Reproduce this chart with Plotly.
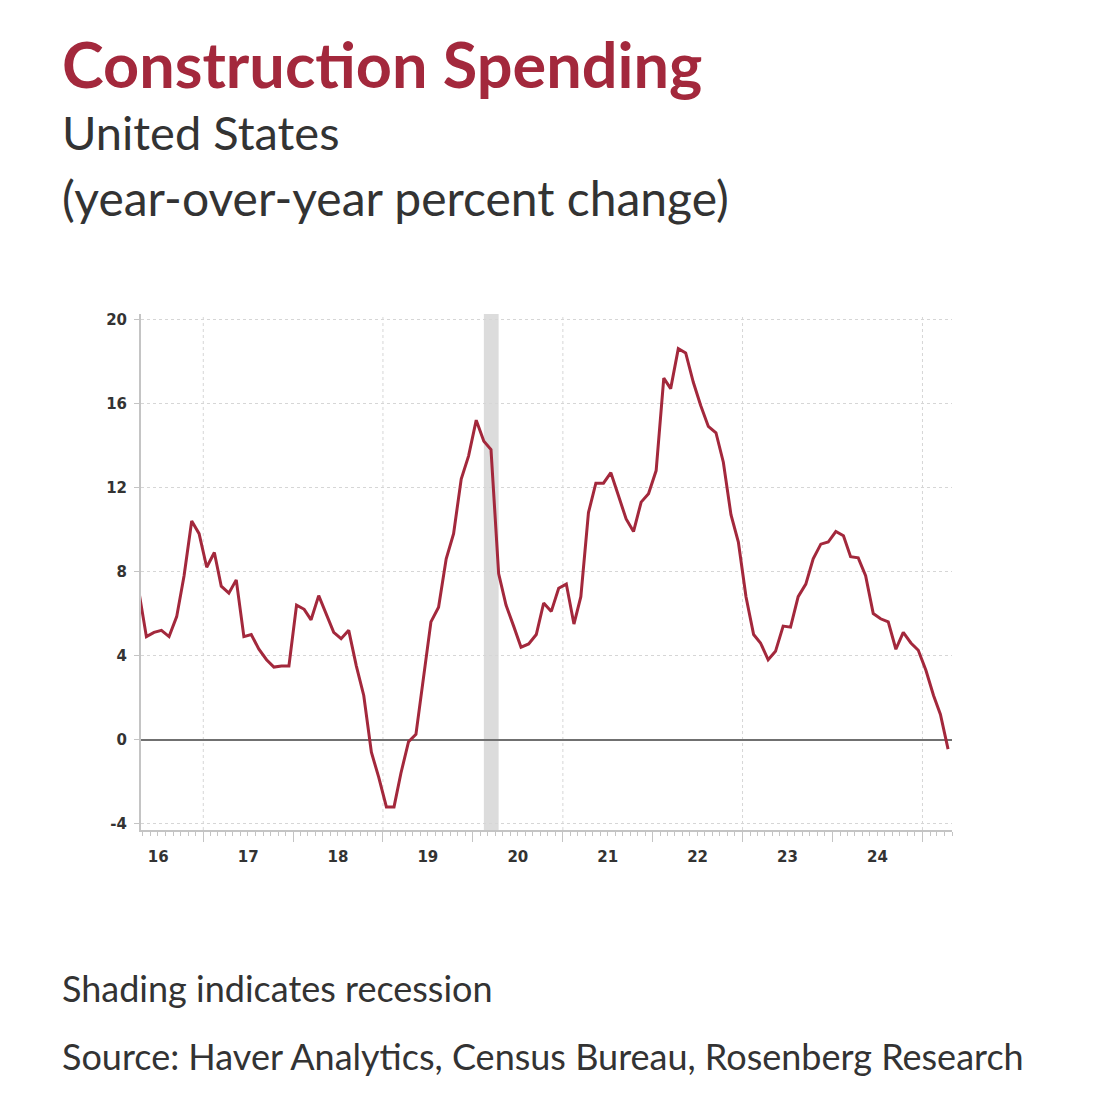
import pandas as pd
import plotly.graph_objects as go

# Construction spending, y/y % change, monthly Apr 2016 - Apr 2025
values_2016 = [7.0, 4.9, 5.1, 5.2, 4.9, 5.85, 7.8, 10.4, 9.8]
values_2017 = [8.2, 8.9, 7.3, 6.97, 7.6, 4.9, 5.0, 4.3, 3.8, 3.45, 3.5, 3.5]
values_2018 = [6.4, 6.2, 5.7, 6.85, 6.0, 5.1, 4.8, 5.2, 3.5, 2.1, -0.6, -1.8]
values_2019 = [-3.2, -3.2, -1.6, -0.1, 0.25, 2.9, 5.6, 6.3, 8.6, 9.8, 12.4, 13.5]
values_2020 = [15.2, 14.2, 13.8, 7.9, 6.4, 5.4, 4.4, 4.55, 5.0, 6.5, 6.1, 7.2]
values_2021 = [7.4, 5.5, 6.8, 10.8, 12.2, 12.2, 12.7, 11.6, 10.5, 9.9, 11.3, 11.7]
values_2022 = [12.8, 17.2, 16.7, 18.6, 18.4, 17.0, 15.9, 14.9, 14.6, 13.2, 10.7, 9.4]
values_2023 = [6.8, 5.0, 4.6, 3.8, 4.2, 5.4, 5.35, 6.8, 7.4, 8.6, 9.3, 9.4]
values_2024 = [9.9, 9.7, 8.7, 8.65, 7.8, 6.0, 5.75, 5.6, 4.3, 5.1, 4.6, 4.25]
values_2025 = [3.3, 2.1, 1.2, -0.45]

yoy = (values_2016 + values_2017 + values_2018 + values_2019 + values_2020
       + values_2021 + values_2022 + values_2023 + values_2024 + values_2025)
# monthly points plotted mid-month
dates = pd.date_range("2016-04-01", periods=len(yoy), freq="MS") + pd.Timedelta(days=14)

y_ticks = [-4, 0, 4, 8, 12, 16, 20]
y_labels = ["-4", "0", "4", "8", "12", "16", "20"]

recession_start = "2020-02-15"
recession_end = "2020-04-15"
grid_years = ["2017-01-01", "2019-01-01", "2021-01-01", "2023-01-01", "2025-01-01"]

# page body has an 8px margin, so the figure sits 8px in from the window edge
OFF = 8
W, H = 1101 - OFF, 1094 - OFF
L, R, T, B = 141 - OFF, 952 - OFF, 314 - OFF, 830.5 - OFF
RED = "#a3283c"
GREY_TXT = "#333333"
AXIS = "#c4c4c4"


def px_x(px):
    return (px - L) / (R - L)


def px_y(py):
    return (B - py) / (B - T)


fig = go.Figure()

fig.add_vrect(x0=recession_start, x1=recession_end, fillcolor="#dcdcdc",
              line_width=0, layer="below")

for g in grid_years:
    fig.add_shape(type="line", xref="x", yref="paper", x0=g, x1=g, y0=0, y1=1,
                  line=dict(color="#d6d6d6", width=1, dash="dot"), layer="below")

fig.add_trace(go.Scatter(x=dates, y=yoy, mode="lines",
                         line=dict(color=RED, width=3), hoverinfo="x+y"))

tick_font = dict(family="DejaVu Sans", size=15, color=GREY_TXT, weight="bold")

fig.update_xaxes(
    type="date", range=["2016-04-23", "2025-05-01"],
    tick0="2016-01-01", dtick="M12", ticklabelmode="period", tickformat="%y",
    ticks="outside", ticklen=10, tickwidth=1, tickcolor=AXIS,
    showline=True, linecolor=AXIS, linewidth=2, showgrid=False,
    tickfont=tick_font, ticklabelstandoff=2,
    minor=dict(dtick="M1", ticks="outside", ticklen=4, tickcolor=AXIS, showgrid=False),
)
fig.update_yaxes(
    range=[-4.3, 20.25], tickvals=y_ticks, ticktext=y_labels,
    ticks="outside", ticklen=5, tickwidth=1, tickcolor=AXIS,
    showline=True, linecolor=AXIS, linewidth=2,
    showgrid=True, gridcolor="#d6d6d6", griddash="dot", gridwidth=1,
    zeroline=True, zerolinecolor="#707070", zerolinewidth=2,
    tickfont=tick_font, ticklabelstandoff=4,
)

# (text, centre y in figure px, size, colour, weight)
texts = [
    ("Construction Spending", 55, 63, RED, "bold"),
    ("United States", 124, 47, GREY_TXT, "normal"),
    ("(year-over-year percent change)", 189, 48, GREY_TXT, "normal"),
    ("Shading indicates recession", 981, 36, GREY_TXT, "normal"),
    ("Source: Haver Analytics, Census Bureau, Rosenberg Research", 1049, 36, GREY_TXT, "normal"),
]
for txt, yc, size, color, weight in texts:
    fig.add_annotation(text=txt, xref="paper", yref="paper", x=px_x(52), y=px_y(yc),
                       xanchor="left", yanchor="middle", showarrow=False,
                       font=dict(family="Lato", size=size, color=color, weight=weight))

fig.update_layout(
    width=W, height=H,
    margin=dict(l=L, r=W - R, t=T, b=H - B),
    paper_bgcolor="white", plot_bgcolor="white",
    showlegend=False,
)

fig.write_html("out.html")
